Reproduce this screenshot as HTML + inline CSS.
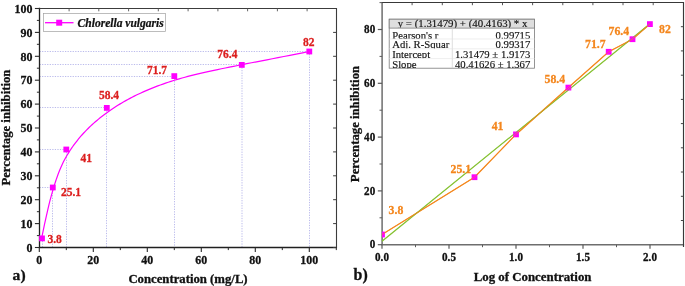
<!DOCTYPE html>
<html><head><meta charset="utf-8"><title>Chart</title>
<style>
html,body{margin:0;padding:0;background:#fff;}
svg{display:block;will-change:transform;}
text{font-family:"Liberation Serif",serif;}
.tk{font-size:13.2px;font-weight:bold;fill:#111;stroke:#111;stroke-width:0.3px;}
.ti{font-size:13.7px;font-weight:bold;fill:#111;stroke:#111;stroke-width:0.3px;}
.pn{font-size:15.2px;font-weight:bold;fill:#111;stroke:#111;stroke-width:0.3px;}
.dl{font-size:13px;font-weight:bold;stroke-width:0.3px;}
.lg{font-size:12.4px;font-weight:bold;font-style:italic;fill:#111;stroke:#111;stroke-width:0.25px;}
.tb{font-size:10.7px;fill:#111;stroke:#111;stroke-width:0.15px;}
</style></head><body>
<svg width="685" height="286" viewBox="0 0 685 286">
<rect width="685" height="286" fill="#fff"/>
<line x1="39.5" y1="238.5" x2="42.0" y2="238.5" stroke="#8484dc" stroke-width="1" stroke-dasharray="1.25 1.3" stroke-opacity="0.55"/>
<line x1="42.5" y1="238.4" x2="42.5" y2="247.5" stroke="#8484dc" stroke-width="1" stroke-dasharray="1.25 1.3" stroke-opacity="0.55"/>
<line x1="39.5" y1="187.5" x2="52.8" y2="187.5" stroke="#8484dc" stroke-width="1" stroke-dasharray="1.25 1.3" stroke-opacity="0.55"/>
<line x1="52.5" y1="187.5" x2="52.5" y2="247.5" stroke="#8484dc" stroke-width="1" stroke-dasharray="1.25 1.3" stroke-opacity="0.55"/>
<line x1="39.5" y1="149.5" x2="66.3" y2="149.5" stroke="#8484dc" stroke-width="1" stroke-dasharray="1.25 1.3" stroke-opacity="0.55"/>
<line x1="66.5" y1="149.5" x2="66.5" y2="247.5" stroke="#8484dc" stroke-width="1" stroke-dasharray="1.25 1.3" stroke-opacity="0.55"/>
<line x1="39.5" y1="107.5" x2="106.8" y2="107.5" stroke="#8484dc" stroke-width="1" stroke-dasharray="1.25 1.3" stroke-opacity="0.55"/>
<line x1="106.5" y1="107.9" x2="106.5" y2="247.5" stroke="#8484dc" stroke-width="1" stroke-dasharray="1.25 1.3" stroke-opacity="0.55"/>
<line x1="39.5" y1="76.5" x2="174.3" y2="76.5" stroke="#8484dc" stroke-width="1" stroke-dasharray="1.25 1.3" stroke-opacity="0.55"/>
<line x1="174.5" y1="76.1" x2="174.5" y2="247.5" stroke="#8484dc" stroke-width="1" stroke-dasharray="1.25 1.3" stroke-opacity="0.55"/>
<line x1="39.5" y1="64.5" x2="241.8" y2="64.5" stroke="#8484dc" stroke-width="1" stroke-dasharray="1.25 1.3" stroke-opacity="0.55"/>
<line x1="242.0" y1="64.9" x2="242.0" y2="247.5" stroke="#8484dc" stroke-width="1" stroke-dasharray="1.25 1.3" stroke-opacity="0.55"/>
<line x1="39.5" y1="51.5" x2="309.3" y2="51.5" stroke="#8484dc" stroke-width="1" stroke-dasharray="1.25 1.3" stroke-opacity="0.55"/>
<line x1="309.5" y1="51.5" x2="309.5" y2="247.5" stroke="#8484dc" stroke-width="1" stroke-dasharray="1.25 1.3" stroke-opacity="0.55"/>
<path d="M39.5,7.85 V247.5 H337.05" fill="none" stroke="#202020" stroke-width="1.3"/>
<path d="M39.5,8.5 H336.5 V247.5" fill="none" stroke="#3c3c3c" stroke-width="1.1"/>
<line x1="34.9" y1="247.5" x2="39.5" y2="247.5" stroke="#2a2a2a" stroke-width="1.1"/>
<text transform="translate(32.5,251.7) scale(0.905,1.0)" text-anchor="end" class="tk">0</text>
<line x1="36.9" y1="235.6" x2="39.5" y2="235.6" stroke="#2a2a2a" stroke-width="1.0"/>
<line x1="34.9" y1="223.6" x2="39.5" y2="223.6" stroke="#2a2a2a" stroke-width="1.1"/>
<text transform="translate(32.5,227.8) scale(0.905,1.0)" text-anchor="end" class="tk">10</text>
<line x1="36.9" y1="211.7" x2="39.5" y2="211.7" stroke="#2a2a2a" stroke-width="1.0"/>
<line x1="34.9" y1="199.7" x2="39.5" y2="199.7" stroke="#2a2a2a" stroke-width="1.1"/>
<text transform="translate(32.5,203.9) scale(0.905,1.0)" text-anchor="end" class="tk">20</text>
<line x1="36.9" y1="187.8" x2="39.5" y2="187.8" stroke="#2a2a2a" stroke-width="1.0"/>
<line x1="34.9" y1="175.8" x2="39.5" y2="175.8" stroke="#2a2a2a" stroke-width="1.1"/>
<text transform="translate(32.5,180.0) scale(0.905,1.0)" text-anchor="end" class="tk">30</text>
<line x1="36.9" y1="163.8" x2="39.5" y2="163.8" stroke="#2a2a2a" stroke-width="1.0"/>
<line x1="34.9" y1="151.9" x2="39.5" y2="151.9" stroke="#2a2a2a" stroke-width="1.1"/>
<text transform="translate(32.5,156.1) scale(0.905,1.0)" text-anchor="end" class="tk">40</text>
<line x1="36.9" y1="139.9" x2="39.5" y2="139.9" stroke="#2a2a2a" stroke-width="1.0"/>
<line x1="34.9" y1="128.0" x2="39.5" y2="128.0" stroke="#2a2a2a" stroke-width="1.1"/>
<text transform="translate(32.5,132.2) scale(0.905,1.0)" text-anchor="end" class="tk">50</text>
<line x1="36.9" y1="116.1" x2="39.5" y2="116.1" stroke="#2a2a2a" stroke-width="1.0"/>
<line x1="34.9" y1="104.1" x2="39.5" y2="104.1" stroke="#2a2a2a" stroke-width="1.1"/>
<text transform="translate(32.5,108.3) scale(0.905,1.0)" text-anchor="end" class="tk">60</text>
<line x1="36.9" y1="92.2" x2="39.5" y2="92.2" stroke="#2a2a2a" stroke-width="1.0"/>
<line x1="34.9" y1="80.2" x2="39.5" y2="80.2" stroke="#2a2a2a" stroke-width="1.1"/>
<text transform="translate(32.5,84.4) scale(0.905,1.0)" text-anchor="end" class="tk">70</text>
<line x1="36.9" y1="68.2" x2="39.5" y2="68.2" stroke="#2a2a2a" stroke-width="1.0"/>
<line x1="34.9" y1="56.3" x2="39.5" y2="56.3" stroke="#2a2a2a" stroke-width="1.1"/>
<text transform="translate(32.5,60.5) scale(0.905,1.0)" text-anchor="end" class="tk">80</text>
<line x1="36.9" y1="44.3" x2="39.5" y2="44.3" stroke="#2a2a2a" stroke-width="1.0"/>
<line x1="34.9" y1="32.4" x2="39.5" y2="32.4" stroke="#2a2a2a" stroke-width="1.1"/>
<text transform="translate(32.5,36.6) scale(0.905,1.0)" text-anchor="end" class="tk">90</text>
<line x1="36.9" y1="20.4" x2="39.5" y2="20.4" stroke="#2a2a2a" stroke-width="1.0"/>
<line x1="34.9" y1="8.5" x2="39.5" y2="8.5" stroke="#2a2a2a" stroke-width="1.1"/>
<text transform="translate(32.5,12.7) scale(0.905,1.0)" text-anchor="end" class="tk">100</text>
<line x1="333.1" y1="247.5" x2="336.5" y2="247.5" stroke="#3c3c3c" stroke-width="1"/>
<line x1="333.1" y1="223.6" x2="336.5" y2="223.6" stroke="#3c3c3c" stroke-width="1"/>
<line x1="333.1" y1="199.7" x2="336.5" y2="199.7" stroke="#3c3c3c" stroke-width="1"/>
<line x1="333.1" y1="175.8" x2="336.5" y2="175.8" stroke="#3c3c3c" stroke-width="1"/>
<line x1="333.1" y1="151.9" x2="336.5" y2="151.9" stroke="#3c3c3c" stroke-width="1"/>
<line x1="333.1" y1="128.0" x2="336.5" y2="128.0" stroke="#3c3c3c" stroke-width="1"/>
<line x1="333.1" y1="104.1" x2="336.5" y2="104.1" stroke="#3c3c3c" stroke-width="1"/>
<line x1="333.1" y1="80.2" x2="336.5" y2="80.2" stroke="#3c3c3c" stroke-width="1"/>
<line x1="333.1" y1="56.3" x2="336.5" y2="56.3" stroke="#3c3c3c" stroke-width="1"/>
<line x1="333.1" y1="32.4" x2="336.5" y2="32.4" stroke="#3c3c3c" stroke-width="1"/>
<line x1="333.1" y1="8.5" x2="336.5" y2="8.5" stroke="#3c3c3c" stroke-width="1"/>
<line x1="39.3" y1="247.5" x2="39.3" y2="252.1" stroke="#2a2a2a" stroke-width="1.1"/>
<text transform="translate(39.3,263.9) scale(0.905,1.0)" text-anchor="middle" class="tk">0</text>
<line x1="66.3" y1="247.5" x2="66.3" y2="250.1" stroke="#2a2a2a" stroke-width="1.0"/>
<line x1="93.3" y1="247.5" x2="93.3" y2="252.1" stroke="#2a2a2a" stroke-width="1.1"/>
<text transform="translate(93.3,263.9) scale(0.905,1.0)" text-anchor="middle" class="tk">20</text>
<line x1="120.3" y1="247.5" x2="120.3" y2="250.1" stroke="#2a2a2a" stroke-width="1.0"/>
<line x1="147.3" y1="247.5" x2="147.3" y2="252.1" stroke="#2a2a2a" stroke-width="1.1"/>
<text transform="translate(147.3,263.9) scale(0.905,1.0)" text-anchor="middle" class="tk">40</text>
<line x1="174.3" y1="247.5" x2="174.3" y2="250.1" stroke="#2a2a2a" stroke-width="1.0"/>
<line x1="201.3" y1="247.5" x2="201.3" y2="252.1" stroke="#2a2a2a" stroke-width="1.1"/>
<text transform="translate(201.3,263.9) scale(0.905,1.0)" text-anchor="middle" class="tk">60</text>
<line x1="228.3" y1="247.5" x2="228.3" y2="250.1" stroke="#2a2a2a" stroke-width="1.0"/>
<line x1="255.3" y1="247.5" x2="255.3" y2="252.1" stroke="#2a2a2a" stroke-width="1.1"/>
<text transform="translate(255.3,263.9) scale(0.905,1.0)" text-anchor="middle" class="tk">80</text>
<line x1="282.3" y1="247.5" x2="282.3" y2="250.1" stroke="#2a2a2a" stroke-width="1.0"/>
<line x1="309.3" y1="247.5" x2="309.3" y2="252.1" stroke="#2a2a2a" stroke-width="1.1"/>
<text transform="translate(309.3,263.9) scale(0.905,1.0)" text-anchor="middle" class="tk">100</text>
<line x1="336.3" y1="247.5" x2="336.3" y2="250.1" stroke="#2a2a2a" stroke-width="1.0"/>
<line x1="69.1" y1="8.5" x2="69.1" y2="11.3" stroke="#555" stroke-width="0.9"/>
<line x1="98.8" y1="8.5" x2="98.8" y2="11.3" stroke="#555" stroke-width="0.9"/>
<line x1="128.6" y1="8.5" x2="128.6" y2="11.3" stroke="#555" stroke-width="0.9"/>
<line x1="158.3" y1="8.5" x2="158.3" y2="11.3" stroke="#555" stroke-width="0.9"/>
<line x1="188.1" y1="8.5" x2="188.1" y2="11.3" stroke="#555" stroke-width="0.9"/>
<line x1="217.9" y1="8.5" x2="217.9" y2="11.3" stroke="#555" stroke-width="0.9"/>
<line x1="247.6" y1="8.5" x2="247.6" y2="11.3" stroke="#555" stroke-width="0.9"/>
<line x1="277.4" y1="8.5" x2="277.4" y2="11.3" stroke="#555" stroke-width="0.9"/>
<line x1="307.1" y1="8.5" x2="307.1" y2="11.3" stroke="#555" stroke-width="0.9"/>
<path d="M41.60,238.42 L42.63,233.39 L43.63,228.57 L44.60,223.96 L45.56,219.54 L46.50,215.32 L47.42,211.27 L48.33,207.40 L49.22,203.70 L50.10,200.16 L51.00,196.78 L51.89,193.55 L52.78,190.46 L53.66,187.51 L54.53,184.69 L55.40,181.99 L56.27,179.41 L57.13,176.93 L58.00,174.56 L58.87,172.28 L59.75,170.09 L60.63,167.99 L61.52,165.96 L62.42,164.00 L63.33,162.11 L64.25,160.27 L65.22,158.47 L66.21,156.72 L67.22,155.01 L68.25,153.33 L69.30,151.67 L70.37,150.02 L71.46,148.39 L72.58,146.78 L73.72,145.19 L74.88,143.62 L76.07,142.05 L77.28,140.51 L78.52,138.98 L79.78,137.47 L81.07,135.97 L82.38,134.49 L83.72,133.02 L85.08,131.57 L86.47,130.13 L87.88,128.71 L89.32,127.30 L90.79,125.91 L92.29,124.52 L93.81,123.16 L95.36,121.80 L96.94,120.46 L98.53,119.13 L100.13,117.82 L101.77,116.51 L103.44,115.22 L105.13,113.94 L106.86,112.68 L108.61,111.42 L110.40,110.18 L112.21,108.94 L114.06,107.72 L115.93,106.51 L117.84,105.31 L119.78,104.12 L121.75,102.95 L123.75,101.78 L125.79,100.63 L127.86,99.50 L129.96,98.37 L132.09,97.26 L134.26,96.16 L136.46,95.07 L138.69,94.00 L140.96,92.94 L143.26,91.89 L145.59,90.86 L147.96,89.85 L150.37,88.84 L152.81,87.86 L155.29,86.88 L157.80,85.93 L160.35,84.98 L162.93,84.06 L165.55,83.15 L168.21,82.25 L170.91,81.37 L173.64,80.51 L176.41,79.66 L179.22,78.83 L182.06,78.02 L184.95,77.22 L187.89,76.43 L190.88,75.66 L193.94,74.89 L197.07,74.13 L200.27,73.37 L203.55,72.62 L206.92,71.86 L210.38,71.10 L213.94,70.33 L217.61,69.56 L221.40,68.77 L225.30,67.97 L229.33,67.16 L233.50,66.32 L237.80,65.47 L242.25,64.60 L246.85,63.70 L251.60,62.77 L256.53,61.82 L261.62,60.83 L266.89,59.81 L272.35,58.75 L277.99,57.66 L283.84,56.52 L289.88,55.34 L296.14,54.12 L302.61,52.84 L309.30,51.52" fill="none" stroke="#ff00ff" stroke-width="1.2"/>
<rect x="39.1" y="235.5" width="5.8" height="5.8" fill="#ff00ff"/>
<rect x="49.9" y="184.6" width="5.8" height="5.8" fill="#ff00ff"/>
<rect x="63.4" y="146.6" width="5.8" height="5.8" fill="#ff00ff"/>
<rect x="103.9" y="105.0" width="5.8" height="5.8" fill="#ff00ff"/>
<rect x="171.4" y="73.2" width="5.8" height="5.8" fill="#ff00ff"/>
<rect x="238.9" y="62.0" width="5.8" height="5.8" fill="#ff00ff"/>
<rect x="306.4" y="48.6" width="5.8" height="5.8" fill="#ff00ff"/>
<text transform="translate(47.5,243.2) scale(0.885,1.0)" class="dl" fill="#dc1e1e" stroke="#dc1e1e">3.8</text>
<text transform="translate(61,196) scale(0.885,1.0)" class="dl" fill="#dc1e1e" stroke="#dc1e1e">25.1</text>
<text transform="translate(80.5,161.5) scale(0.885,1.0)" class="dl" fill="#dc1e1e" stroke="#dc1e1e">41</text>
<text transform="translate(98.9,99.0) scale(0.885,1.0)" class="dl" fill="#dc1e1e" stroke="#dc1e1e">58.4</text>
<text transform="translate(147,74.4) scale(0.885,1.0)" class="dl" fill="#dc1e1e" stroke="#dc1e1e">71.7</text>
<text transform="translate(217.3,58.3) scale(0.885,1.0)" class="dl" fill="#dc1e1e" stroke="#dc1e1e">76.4</text>
<text transform="translate(303,46.2) scale(0.885,1.0)" class="dl" fill="#dc1e1e" stroke="#dc1e1e">82</text>
<rect x="43.5" y="13.5" width="122" height="18" fill="#fff" stroke="#a0a0a0" stroke-width="0.7"/>
<line x1="45" y1="22.7" x2="73.5" y2="22.7" stroke="#ff00ff" stroke-width="1.3"/>
<rect x="56.2" y="19.7" width="6" height="6" fill="#ff00ff"/>
<text transform="translate(77.6,26.5) scale(0.93,1.0)" class="lg">Chlorella vulgaris</text>
<text transform="translate(188,283.4) scale(1.05,1.0)" text-anchor="middle" class="ti" style="font-size:12.15px">Concentration (mg/L)</text>
<text transform="translate(9.8,127.6) scale(1.0,0.957) rotate(-90)" text-anchor="middle" class="ti" style="font-size:13.3px">Percentage inhibition</text>
<text transform="translate(12.6,279.8) scale(1.0,1.0)" class="pn" style="font-size:15.6px">a)</text>
<path d="M382.1,2.0 V244.8 H684.1" fill="none" stroke="#6e6e6e" stroke-width="1.5"/>
<path d="M382.1,2.5 H683.5 V247.0" fill="none" stroke="#383838" stroke-width="1.15"/>
<line x1="377.8" y1="244.7" x2="382.1" y2="244.7" stroke="#5a5a5a" stroke-width="1.2"/>
<text transform="translate(375.2,248.4) scale(0.95,1.0)" text-anchor="end" class="tk" style="font-size:11.7px">0</text>
<line x1="379.5" y1="217.8" x2="382.1" y2="217.8" stroke="#5a5a5a" stroke-width="1.0"/>
<line x1="377.8" y1="190.9" x2="382.1" y2="190.9" stroke="#5a5a5a" stroke-width="1.2"/>
<text transform="translate(375.2,194.6) scale(0.95,1.0)" text-anchor="end" class="tk" style="font-size:11.7px">20</text>
<line x1="379.5" y1="164.0" x2="382.1" y2="164.0" stroke="#5a5a5a" stroke-width="1.0"/>
<line x1="377.8" y1="137.1" x2="382.1" y2="137.1" stroke="#5a5a5a" stroke-width="1.2"/>
<text transform="translate(375.2,140.8) scale(0.95,1.0)" text-anchor="end" class="tk" style="font-size:11.7px">40</text>
<line x1="379.5" y1="110.2" x2="382.1" y2="110.2" stroke="#5a5a5a" stroke-width="1.0"/>
<line x1="377.8" y1="83.3" x2="382.1" y2="83.3" stroke="#5a5a5a" stroke-width="1.2"/>
<text transform="translate(375.2,87.0) scale(0.95,1.0)" text-anchor="end" class="tk" style="font-size:11.7px">60</text>
<line x1="379.5" y1="56.4" x2="382.1" y2="56.4" stroke="#5a5a5a" stroke-width="1.0"/>
<line x1="377.8" y1="29.5" x2="382.1" y2="29.5" stroke="#5a5a5a" stroke-width="1.2"/>
<text transform="translate(375.2,33.2) scale(0.95,1.0)" text-anchor="end" class="tk" style="font-size:11.7px">80</text>
<line x1="379.5" y1="2.6" x2="382.1" y2="2.6" stroke="#5a5a5a" stroke-width="1.0"/>
<line x1="680.9" y1="26.7" x2="683.5" y2="26.7" stroke="#444" stroke-width="1"/>
<line x1="680.9" y1="50.9" x2="683.5" y2="50.9" stroke="#444" stroke-width="1"/>
<line x1="680.9" y1="75.2" x2="683.5" y2="75.2" stroke="#444" stroke-width="1"/>
<line x1="680.9" y1="99.4" x2="683.5" y2="99.4" stroke="#444" stroke-width="1"/>
<line x1="680.9" y1="123.6" x2="683.5" y2="123.6" stroke="#444" stroke-width="1"/>
<line x1="680.9" y1="147.8" x2="683.5" y2="147.8" stroke="#444" stroke-width="1"/>
<line x1="680.9" y1="172.0" x2="683.5" y2="172.0" stroke="#444" stroke-width="1"/>
<line x1="680.9" y1="196.3" x2="683.5" y2="196.3" stroke="#444" stroke-width="1"/>
<line x1="680.9" y1="220.5" x2="683.5" y2="220.5" stroke="#444" stroke-width="1"/>
<line x1="382.0" y1="244.8" x2="382.0" y2="248.8" stroke="#5a5a5a" stroke-width="1.2"/>
<text transform="translate(382.0,261.1) scale(0.95,1.0)" text-anchor="middle" class="tk" style="font-size:11.7px">0.0</text>
<line x1="415.5" y1="244.8" x2="415.5" y2="247.20000000000002" stroke="#5a5a5a" stroke-width="1.0"/>
<line x1="449.0" y1="244.8" x2="449.0" y2="248.8" stroke="#5a5a5a" stroke-width="1.2"/>
<text transform="translate(449.0,261.1) scale(0.95,1.0)" text-anchor="middle" class="tk" style="font-size:11.7px">0.5</text>
<line x1="482.5" y1="244.8" x2="482.5" y2="247.20000000000002" stroke="#5a5a5a" stroke-width="1.0"/>
<line x1="516.0" y1="244.8" x2="516.0" y2="248.8" stroke="#5a5a5a" stroke-width="1.2"/>
<text transform="translate(516.0,261.1) scale(0.95,1.0)" text-anchor="middle" class="tk" style="font-size:11.7px">1.0</text>
<line x1="549.5" y1="244.8" x2="549.5" y2="247.20000000000002" stroke="#5a5a5a" stroke-width="1.0"/>
<line x1="583.0" y1="244.8" x2="583.0" y2="248.8" stroke="#5a5a5a" stroke-width="1.2"/>
<text transform="translate(583.0,261.1) scale(0.95,1.0)" text-anchor="middle" class="tk" style="font-size:11.7px">1.5</text>
<line x1="616.5" y1="244.8" x2="616.5" y2="247.20000000000002" stroke="#5a5a5a" stroke-width="1.0"/>
<line x1="650.0" y1="244.8" x2="650.0" y2="248.8" stroke="#5a5a5a" stroke-width="1.2"/>
<text transform="translate(650.0,261.1) scale(0.95,1.0)" text-anchor="middle" class="tk" style="font-size:11.7px">2.0</text>
<line x1="412.1" y1="2.5" x2="412.1" y2="5.2" stroke="#444" stroke-width="0.9"/>
<line x1="442.3" y1="2.5" x2="442.3" y2="5.2" stroke="#444" stroke-width="0.9"/>
<line x1="472.4" y1="2.5" x2="472.4" y2="5.2" stroke="#444" stroke-width="0.9"/>
<line x1="502.5" y1="2.5" x2="502.5" y2="5.2" stroke="#444" stroke-width="0.9"/>
<line x1="532.6" y1="2.5" x2="532.6" y2="5.2" stroke="#444" stroke-width="0.9"/>
<line x1="562.8" y1="2.5" x2="562.8" y2="5.2" stroke="#444" stroke-width="0.9"/>
<line x1="592.9" y1="2.5" x2="592.9" y2="5.2" stroke="#444" stroke-width="0.9"/>
<line x1="623.0" y1="2.5" x2="623.0" y2="5.2" stroke="#444" stroke-width="0.9"/>
<line x1="653.2" y1="2.5" x2="653.2" y2="5.2" stroke="#444" stroke-width="0.9"/>
<line x1="382.0" y1="241.2" x2="650.0" y2="23.7" stroke="#86c232" stroke-width="1.2"/>
<path d="M382.0,234.5 L474.5,177.2 L516.0,134.4 L568.4,87.6 L608.7,51.8 L632.5,39.2 L649.9,24.1" fill="none" stroke="#f4861c" stroke-width="1.3"/>
<clipPath id="cr"><rect x="382.0" y="0" width="400" height="286"/></clipPath>
<rect x="379.1" y="231.6" width="5.8" height="5.8" fill="#ff00ff" clip-path="url(#cr)"/>
<rect x="471.6" y="174.3" width="5.8" height="5.8" fill="#ff00ff" clip-path="url(#cr)"/>
<rect x="513.1" y="131.5" width="5.8" height="5.8" fill="#ff00ff" clip-path="url(#cr)"/>
<rect x="565.5" y="84.7" width="5.8" height="5.8" fill="#ff00ff" clip-path="url(#cr)"/>
<rect x="605.8" y="48.9" width="5.8" height="5.8" fill="#ff00ff" clip-path="url(#cr)"/>
<rect x="629.6" y="36.3" width="5.8" height="5.8" fill="#ff00ff" clip-path="url(#cr)"/>
<rect x="647.0" y="21.2" width="5.8" height="5.8" fill="#ff00ff" clip-path="url(#cr)"/>
<path d="M382.0,234.5 L474.5,177.2 L516.0,134.4 L568.4,87.6 L608.7,51.8 L632.5,39.2 L649.9,24.1" fill="none" stroke="#f4861c" stroke-width="1.0" stroke-opacity="0.55"/>
<line x1="382.0" y1="241.2" x2="650.0" y2="23.7" stroke="#86c232" stroke-width="0.9" stroke-opacity="0.5" clip-path="url(#cr)"/>
<text transform="translate(388.6,213.7) scale(0.885,1.0)" class="dl" fill="#f4861c" stroke="#f4861c" style="font-size:13.3px">3.8</text>
<text transform="translate(450.5,172.8) scale(0.885,1.0)" class="dl" fill="#f4861c" stroke="#f4861c" style="font-size:13.3px">25.1</text>
<text transform="translate(491.7,129.8) scale(0.885,1.0)" class="dl" fill="#f4861c" stroke="#f4861c" style="font-size:13.3px">41</text>
<text transform="translate(544.6,83.0) scale(0.885,1.0)" class="dl" fill="#f4861c" stroke="#f4861c" style="font-size:13.3px">58.4</text>
<text transform="translate(585,47.6) scale(0.885,1.0)" class="dl" fill="#f4861c" stroke="#f4861c" style="font-size:13.3px">71.7</text>
<text transform="translate(608.6,35.1) scale(0.885,1.0)" class="dl" fill="#f4861c" stroke="#f4861c" style="font-size:13.3px">76.4</text>
<text transform="translate(659,33.1) scale(0.885,1.0)" class="dl" fill="#f4861c" stroke="#f4861c" style="font-size:13.3px">82</text>
<rect x="389.2" y="19.2" width="145.40000000000003" height="49.0" fill="#fff" stroke="#7a7a7a" stroke-width="0.8"/>
<rect x="389.2" y="19.2" width="145.40000000000003" height="8.900000000000002" fill="#dedede" stroke="#7a7a7a" stroke-width="0.8"/>
<line x1="452.3" y1="28.1" x2="452.3" y2="68.2" stroke="#d0d0d0" stroke-width="0.7"/>
<clipPath id="ch"><rect x="389.2" y="19.2" width="145.40000000000003" height="8.600000000000001"/></clipPath>
<text x="462.6" y="27.2" text-anchor="middle" class="tb" style="font-size:10.85px" clip-path="url(#ch)">y = (1.31479) + (40.4163) * x</text>
<clipPath id="c0"><rect x="389.2" y="28.9" width="145.40000000000003" height="9.85"/></clipPath>
<g clip-path="url(#c0)"><text transform="translate(392.2,38.6) scale(1,1.06)" class="tb">Pearson's r</text><text transform="translate(530.3,38.6) scale(1,1.06)" text-anchor="end" class="tb">0.99715</text></g>
<clipPath id="c1"><rect x="389.2" y="38.7" width="145.40000000000003" height="9.85"/></clipPath>
<g clip-path="url(#c1)"><text transform="translate(392.2,48.4) scale(1,1.06)" class="tb">Adj. R-Squar</text><text transform="translate(530.3,48.4) scale(1,1.06)" text-anchor="end" class="tb">0.99317</text></g>
<line x1="389.2" y1="39.0" x2="534.6" y2="39.0" stroke="#e2e2e2" stroke-width="0.6"/>
<clipPath id="c2"><rect x="389.2" y="48.5" width="145.40000000000003" height="9.85"/></clipPath>
<g clip-path="url(#c2)"><text transform="translate(392.2,58.2) scale(1,1.06)" class="tb">Intercept</text><text transform="translate(530.3,58.2) scale(1,1.06)" text-anchor="end" class="tb">1.31479 ± 1.9173</text></g>
<line x1="389.2" y1="48.8" x2="534.6" y2="48.8" stroke="#e2e2e2" stroke-width="0.6"/>
<clipPath id="c3"><rect x="389.2" y="58.3" width="145.40000000000003" height="9.9"/></clipPath>
<g clip-path="url(#c3)"><text transform="translate(392.2,68.0) scale(1,1.06)" class="tb">Slope</text><text transform="translate(530.3,68.0) scale(1,1.06)" text-anchor="end" class="tb">40.41626 ± 1.367</text></g>
<line x1="389.2" y1="58.599999999999994" x2="534.6" y2="58.599999999999994" stroke="#e2e2e2" stroke-width="0.6"/>
<text transform="translate(532.6,280.7) scale(1.025,1.0)" text-anchor="middle" class="ti" style="font-size:12.55px">Log of Concentration</text>
<text transform="translate(359.1,124) scale(1.0,0.96) rotate(-90)" text-anchor="middle" class="ti" style="font-size:13.3px">Percentage inhibition</text>
<text transform="translate(353.6,279.5) scale(1.0,1.0)" class="pn" style="font-size:15.9px">b)</text>
</svg>
</body></html>
